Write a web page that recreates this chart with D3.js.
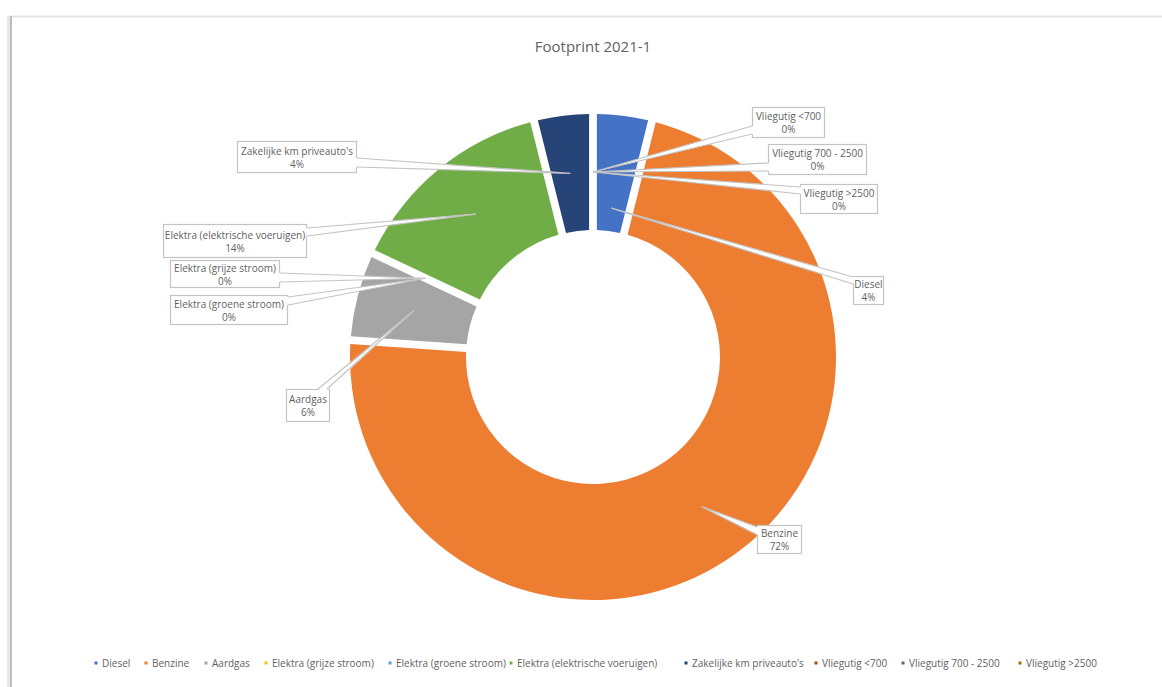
<!DOCTYPE html>
<html><head><meta charset="utf-8">
<script src="https://cdn.jsdelivr.net/npm/d3@7"></script>
<style>body{margin:0;background:#fff}svg{display:block}</style>
</head><body>
<svg id="c" width="1162" height="687"></svg>
<script>
const title = "Footprint 2021-1";
const categories = ["Diesel","Benzine","Aardgas","Elektra (grijze stroom)","Elektra (groene stroom)","Elektra (elektrische voeruigen)","Zakelijke km priveauto's","Vliegutig <700","Vliegutig 700 - 2500","Vliegutig >2500"];
const values = [3.9, 72.2, 5.9, 0, 0, 14.1, 3.9, 0, 0, 0];
const colors = ["#4472C4","#ED7D31","#A5A5A5","#FFC000","#5B9BD5","#70AD47","#264478","#9E480E","#636363","#997300"];

// layout of callout boxes: [x0,y0,x1,y1], side of wedge, base range, tip radius
const labelLayout = [
  {box:[853,276,884,305], side:"left",  base:[277,284], tipR:150},
  {box:[757,525,802,554], side:"left",  base:[527,535], tipR:null},
  {box:[286,389,330,422], side:"top",   base:[318,327], tipR:null},
  {box:[170,260,280,288], side:"right", base:[273,282], tipR:null},
  {box:[170,295,288,325], side:"right", base:[297,305], tipR:null},
  {box:[163,224,307,258], side:"right", base:[228,236], tipR:null},
  {box:[237,141,357,173], side:"right", base:[158,167], tipR:null},
  {box:[752,107,825,138], side:"left",  base:[126,134], tipR:null},
  {box:[768,144,867,175], side:"left",  base:[163,171], tipR:null},
  {box:[800,184,878,214], side:"left",  base:[187,194], tipR:null}
];
const legendX = [96,146,206,266,390,511,686,816,903,1020];

const svg = d3.select("#c");
const W = 1162, H = 687;
const cx = 593, cy = 357, R = 243, r0 = 127;
const font = "'Open Sans', 'Liberation Sans', sans-serif";
const txt = "#5f5f5f";
const fs = 10;

// frame
svg.append("line").attr("x1",10).attr("x2",W).attr("y1",16.5).attr("y2",16.5)
  .attr("stroke","#e3e3e3").attr("stroke-width",2);
svg.append("line").attr("x1",8.5).attr("x2",8.5).attr("y1",16).attr("y2",H)
  .attr("stroke","#e6e6e6").attr("stroke-width",3);
svg.append("line").attr("x1",11).attr("x2",11).attr("y1",16).attr("y2",H)
  .attr("stroke","#bdbdbd").attr("stroke-width",2);

// title
svg.append("text").attr("x",cx).attr("y",52).attr("text-anchor","middle")
  .attr("font-family",font).attr("font-size",15).attr("fill",txt).text(title);

const total = d3.sum(values);
const pie = d3.pie().sort(null).value(d=>d).startAngle(0).endAngle(2*Math.PI);
const arcs = pie(values);
const arc = d3.arc().innerRadius(r0).outerRadius(R).padAngle(0.078).padRadius(100);

const g = svg.append("g").attr("transform",`translate(${cx},${cy})`);
g.selectAll("path.slice").data(arcs).join("path").attr("class","slice")
  .attr("d",d=> d.endAngle - d.startAngle > 0 ? arc(d) : null)
  .attr("fill",(d,i)=>colors[i]);

// callouts
const pct = d3.format(".0%");
const lg = svg.append("g");
arcs.forEach((d,i)=>{
  const L = labelLayout[i];
  const mid = (d.startAngle + d.endAngle)/2;
  const tr = L.tipR || (R + r0)/2;
  const tip = [cx + tr*Math.sin(mid), cy - tr*Math.cos(mid)];
  const [x0,y0,x1,y1] = L.box;
  let b1,b2,f1,f2;
  if (L.side==="left"){ b1=[x0,L.base[0]]; b2=[x0,L.base[1]]; f1=[x0+1.5,L.base[0]]; f2=[x0+1.5,L.base[1]]; }
  else if (L.side==="right"){ b1=[x1,L.base[0]]; b2=[x1,L.base[1]]; f1=[x1-1.5,L.base[0]]; f2=[x1-1.5,L.base[1]]; }
  else { b1=[L.base[0],y0]; b2=[L.base[1],y0]; f1=[L.base[0],y0+1.5]; f2=[L.base[1],y0+1.5]; }
  const c = lg.append("g");
  c.append("rect").attr("x",x0+0.5).attr("y",y0+0.5).attr("width",x1-x0-1).attr("height",y1-y0-1)
    .attr("fill","#fff").attr("stroke","#c4c4c4").attr("stroke-width",1.2);
  c.append("path").attr("d",d3.line()([f1,tip,f2])+"Z").attr("fill","#fff").attr("stroke","none");
  c.append("path").attr("d",d3.line()([b1,tip,b2])).attr("fill","none").attr("stroke","#c4c4c4").attr("stroke-width",1.2);
  const mx = (x0+x1)/2, my = (y0+y1)/2;
  c.append("text").attr("x",mx).attr("y",my-2.5).attr("text-anchor","middle")
    .attr("font-family",font).attr("font-size",fs).attr("fill",txt).text(categories[i]);
  c.append("text").attr("x",mx).attr("y",my+10.5).attr("text-anchor","middle")
    .attr("font-family",font).attr("font-size",fs).attr("fill",txt).text(pct(values[i]/total));
});

// legend
const leg = svg.append("g");
categories.forEach((c,i)=>{
  leg.append("rect").attr("x",legendX[i]-1.5).attr("y",661.5).attr("width",3).attr("height",3).attr("fill",colors[i]);
  leg.append("text").attr("x",legendX[i]+6).attr("y",667).attr("font-family",font)
    .attr("font-size",fs).attr("fill",txt).text(c);
});
</script>
</body></html>
